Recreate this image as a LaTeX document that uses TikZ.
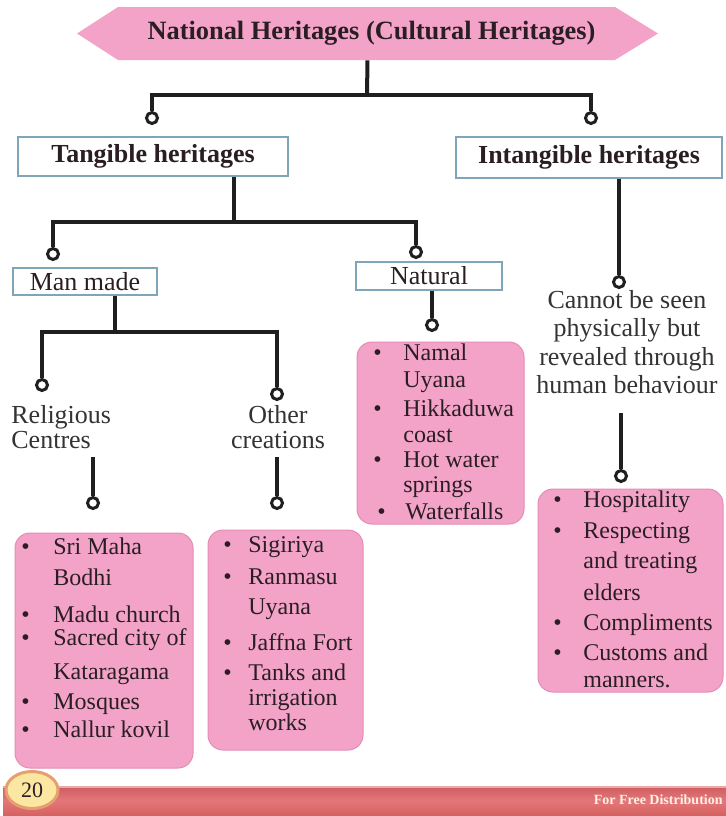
\documentclass[tikz,border=0pt]{standalone}
\usepackage{fontspec}
\setmainfont{Liberation Serif}
\definecolor{heritpink}{HTML}{F4A3C8}
\definecolor{pinkedge}{HTML}{E58CB5}
\definecolor{boxblue}{HTML}{7FA6B8}
\definecolor{inkdark}{HTML}{2A1E24}
\definecolor{bartop}{HTML}{CC5B5E}
\definecolor{barmid}{HTML}{E5777A}
\definecolor{barlow}{HTML}{D4625F}
\definecolor{barrim}{HTML}{EBA8A6}
\definecolor{pageyellow}{HTML}{FBE6A2}
\definecolor{pageorange}{HTML}{E6A070}
\definecolor{freecream}{HTML}{FFF1E6}
\newcommand{\heritlist}[2]{\begin{tabular}[t]{@{}p{#1}@{}l@{}}#2\end{tabular}}

\begin{document}
\begin{tikzpicture}[x=0.5pt, y=-0.5pt,
    conn/.style={line width=2pt, draw=black!88},
    knob/.style={circle, draw=black!88, line width=1.5pt, fill=white, inner sep=0pt, minimum size=5.5pt},
    labelbox/.style={draw=boxblue, line width=0.6pt, fill=white, inner sep=0pt, text=inkdark},
    listbox/.style={rounded corners=7.5pt, fill=heritpink, draw=pinkedge, line width=0.5pt},
    listtext/.style={anchor=base west, inner sep=0pt, text=inkdark, font=\fontsize{12}{14}\selectfont},
    plaintext/.style={inner sep=0pt, text=black!80, font=\fontsize{13}{14.3}\selectfont}]
    \useasboundingbox (0,0) rectangle (726,816);

    % title banner
    \fill[heritpink] (77,33.5) -- (118,7) -- (615,7) -- (658,33.5) -- (615,60) -- (118,60) -- cycle;
    \node[minimum width=290.5pt, minimum height=26.5pt, inner sep=0pt, text=inkdark,
        font=\bfseries\fontsize{13.2}{15}\selectfont] (title) at (367.5,33.5)
        {\hspace*{4pt}National Heritages (Cultural Heritages)};

    % first level
    \node[labelbox, minimum width=135pt, minimum height=19.5pt, font=\bfseries\fontsize{13}{15}\selectfont]
        (tang) at (153,156.5) {Tangible heritages};
    \node[labelbox, minimum width=133pt, minimum height=20.5pt, font=\bfseries\fontsize{13}{15}\selectfont]
        (intang) at (589,157.5) {Intangible heritages};
    \node[knob] (kT) at (152,118) {};
    \node[knob] (kI) at (591,118) {};
    \coordinate (j0) at (367,95);
    \draw[conn] (title.south) -- (j0);
    \draw[conn] (kT) |- (j0) -| (kI);

    % tangible
    \node[labelbox, minimum width=72pt, minimum height=13.5pt, font=\fontsize{13}{15}\selectfont]
        (manmade) at (85,281.5) {Man made};
    \node[labelbox, minimum width=73pt, minimum height=14pt, font=\fontsize{13}{15}\selectfont]
        (natural) at (429,276) {Natural};
    \node[knob] (kM) at (53,254) {};
    \node[knob] (kN) at (416,252) {};
    \coordinate (j1) at (234,222);
    \draw[conn] (tang.south -| j1) -- (j1);
    \draw[conn] (kM) |- (j1) -| (kN);

    % man made
    \node[knob] (kR) at (42,385) {};
    \node[knob] (kO) at (277,394) {};
    \coordinate (j2) at (115,332);
    \draw[conn] (manmade.south -| j2) -- (j2);
    \draw[conn] (kR) |- (j2) -| (kO);
    \node[plaintext, anchor=west, align=left, font=\fontsize{13}{12.5}\selectfont] (relig) at (11,427.5) {Religious\\Centres};
    \node[plaintext, align=center, font=\fontsize{13}{12.5}\selectfont] (other) at (278,427.5) {Other\\creations};
    \node[knob] (kR2) at (93,503) {};
    \node[knob] (kO2) at (277,503) {};
    \coordinate (r0) at (93,457);
    \coordinate (o0) at (277,457);
    \draw[conn] (r0) -- (kR2);
    \draw[conn] (o0) -- (kO2);

    % natural
    \node[knob] (kN2) at (432,325) {};
    \draw[conn] (natural.south -| kN2) -- (kN2);

    % intangible
    \node[knob] (kC) at (619,282) {};
    \draw[conn] (intang.south -| kC) -- (kC);
    \node[plaintext, align=center] (cannot) at (627,342) {Cannot be seen\\physically but\\revealed through\\human behaviour};
    \node[knob] (kH) at (621,476) {};
    \coordinate (h0) at (621,413);
    \draw[conn] (h0) -- (kH);

    % lists
    \node[listbox, minimum width=89pt, minimum height=117.5pt] (relBox) at (104,650.5) {};
    \node[listbox, minimum width=77.5pt, minimum height=110pt] (othBox) at (285.5,640) {};
    \node[listbox, minimum width=83.5pt, minimum height=91pt] (natBox) at (440.5,433) {};
    \node[listbox, minimum width=92.5pt, minimum height=101.5pt] (intBox) at (630.5,590.5) {};

    \node[listtext] (relText) at (21,554) {\heritlist{16pt}{%
        \textbullet & Sri Maha\\[1.5pt]
        & Bodhi\\[4.5pt]
        \textbullet & Madu church\\[-2.5pt]
        \textbullet & Sacred city of\\[3pt]
        & Kataragama\\[1pt]
        \textbullet & Mosques\\
        \textbullet & Nallur kovil}};
    \node[listtext] (othText) at (223,552) {\heritlist{12.5pt}{%
        \textbullet & Sigiriya\\[2pt]
        \textbullet & Ranmasu\\[1pt]
        & Uyana\\[4pt]
        \textbullet & Jaffna Fort\\[1pt]
        \textbullet & Tanks and\\[-1.5pt]
        & irrigation\\[-1.5pt]
        & works}};
    \node[listtext] (natText) at (373,360) {\heritlist{15pt}{%
        \textbullet & Namal\\[-0.5pt]
        & Uyana\\[0.5pt]
        \textbullet & Hikkaduwa\\[-1pt]
        & coast\\[-1.5pt]
        \textbullet & Hot water\\[-1.5pt]
        & springs\\[-0.5pt]
        \hspace*{2pt}\textbullet & \hspace*{1pt}Waterfalls}};
    \node[listtext] (intText) at (553,507) {\heritlist{15pt}{%
        \textbullet & Hospitality\\[1.5pt]
        \textbullet & Respecting\\[1pt]
        & and treating\\[2pt]
        & elders\\[1pt]
        \textbullet & Compliments\\[1pt]
        \textbullet & Customs and\\[-0.5pt]
        & manners.}};

    % page footer
    \shade[top color=bartop, bottom color=barlow, middle color=barmid] (3,786) rectangle (726,815);
    \draw[barrim, line width=0.6pt] (3,787) -- (726,787);
    \draw[line width=1.5pt, draw=pageorange, fill=pageyellow] (32,790) ellipse (26 and 18.5);
    \node[inner sep=0pt, text=inkdark, font=\fontsize{11}{11}\selectfont] (pagenum) at (32,790) {20};
    \node[anchor=east, inner sep=0pt, text=freecream, font=\bfseries\fontsize{7}{8}\selectfont] (free) at (723,800) {For Free Distribution};
\end{tikzpicture}
\end{document}
